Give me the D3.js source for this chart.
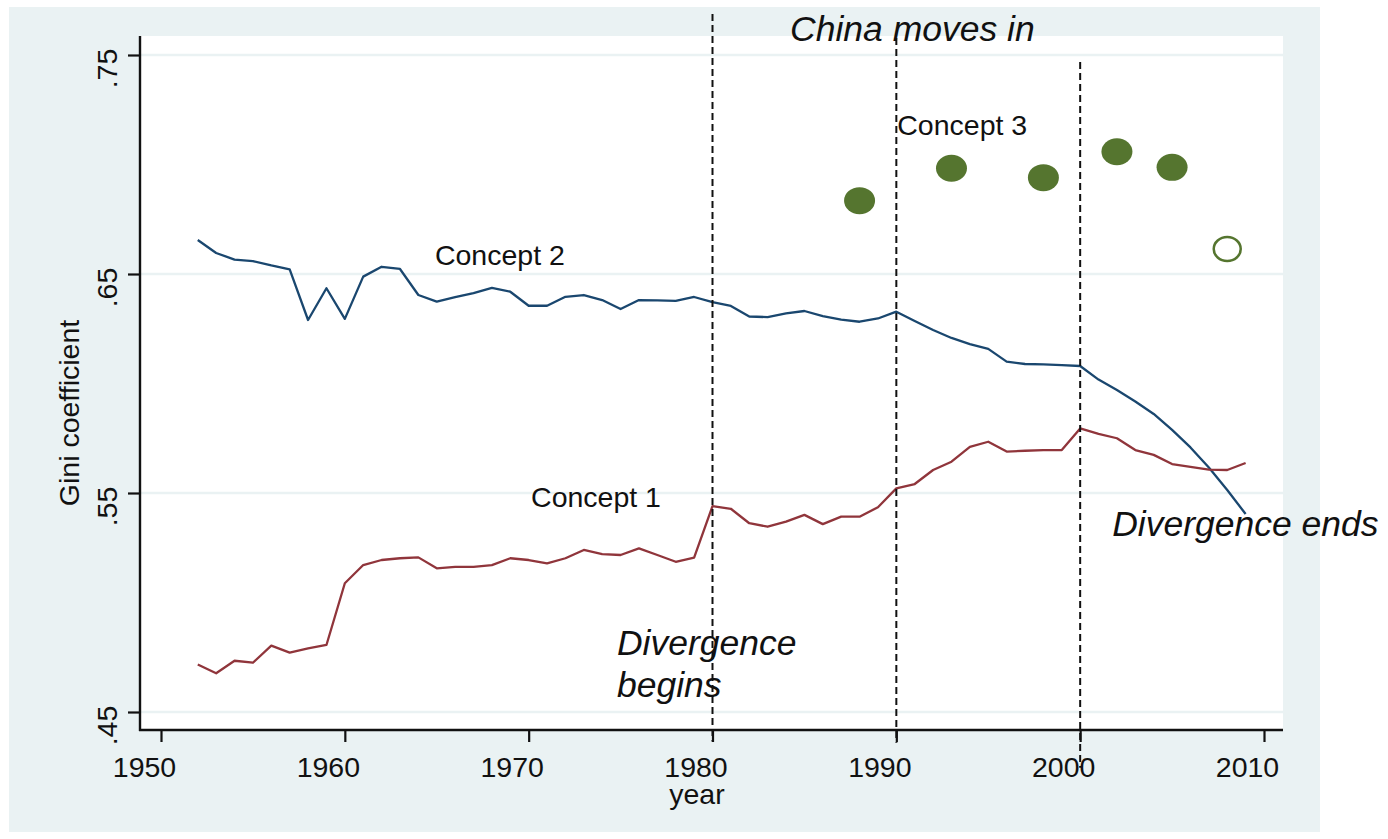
<!DOCTYPE html>
<html>
<head>
<meta charset="utf-8">
<script src="https://cdn.jsdelivr.net/npm/d3@7"></script>
<style>
  html, body { margin: 0; padding: 0; background: #ffffff; }
  svg { display: block; }
  text { font-family: "Liberation Sans", Arial, sans-serif; fill: #111; }
</style>
</head>
<body>
<svg id="chart" width="1388" height="839"></svg>
<script>
// ---------------- data ----------------
const years = d3.range(1952, 2010); // 1952..2009

const concept2 = [
  .6655, .6596, .6566, .6559, .6539, .6521, .6290, .6435, .6295, .6488,
  .6533, .6523, .6404, .6374, .6394, .6413, .6437, .6419, .6355, .6355,
  .6396, .6404, .6381, .6340, .6381, .6380, .6377, .6395, .6372, .6354,
  .6306, .6303, .6320, .6331, .6308, .6292, .6282, .6297, .6328, .6285,
  .6244, .6208, .6180, .6158, .6100, .6089, .6087, .6084, .6080, .6018,
  .5970, .5918, .5861, .5788, .5708, .5616, .5514, .5404
];

const concept1 = [
  .4717, .4677, .4734, .4725, .4803, .4771, .4791, .4806, .5088, .5171,
  .5194, .5202, .5206, .5156, .5163, .5163, .5171, .5202, .5194, .5179,
  .5202, .5240, .5221, .5217, .5247, .5217, .5186, .5205, .5440, .5428,
  .5362, .5346, .5369, .5400, .5358, .5392, .5392, .5435, .5521, .5541,
  .5605, .5643, .5711, .5734, .5689, .5693, .5696, .5696, .5795, .5770,
  .5750, .5696, .5674, .5632, .5619, .5607, .5605, .5637
];

const concept3Years = [1988, 1993, 1998, 2002, 2005];
const concept3Values = [.6835, .6983, .6940, .7058, .6987];
const concept3OpenYears = [2008];
const concept3OpenValues = [.6614];

const xTicks = [1950, 1960, 1970, 1980, 1990, 2000, 2010];
const yTicks = [.45, .55, .65, .75];

const markerYears = [1980, 1990, 2000];
const markerTop = [.7687, .7578, .7468];
const markerBottom = [.4365, .4360, .4245];

const seriesLabels = [
  { text: "Concept 2", year: 1964.9, value: .6541 },
  { text: "Concept 1", year: 1970.13, value: .5436 },
  { text: "Concept 3", year: 1990.05, value: .7133 }
];
const notes = [
  { lines: ["China moves in"], year: 1984.22, value: .7564 },
  { lines: ["Divergence", "begins"], year: 1974.8, value: .4760 },
  { lines: ["Divergence ends"], year: 2001.74, value: .5304 }
];

// ---------------- layout ----------------
const svg = d3.select("#chart");
const plot = { left: 140, right: 1283, top: 36, bottom: 730 };

const x = d3.scaleLinear().domain([1950, 2010]).range([161, 1264]);
const y = d3.scaleLinear().domain([.45, .75]).range([712, 55]);

const navy = "#1a476f", maroon = "#90353b", forest = "#55752f", bg = "#eaf2f3";

// outer graph region
svg.append("rect").attr("x", 9).attr("y", 7).attr("width", 1311).attr("height", 825).attr("fill", bg);
// plot region
svg.append("rect").attr("x", plot.left).attr("y", plot.top)
  .attr("width", plot.right - plot.left).attr("height", plot.bottom - plot.top).attr("fill", "#fff");

// gridlines
svg.append("g").selectAll("line").data(yTicks).join("line")
  .attr("x1", plot.left).attr("x2", plot.right)
  .attr("y1", d => y(d)).attr("y2", d => y(d))
  .attr("stroke", bg).attr("stroke-width", 2.5);

// y axis
const yAxis = d3.axisLeft(y).tickValues(yTicks).tickSize(12)
  .tickFormat(d => d3.format(".2f")(d).replace(/^0/, ""));
const gy = svg.append("g").attr("transform", `translate(${plot.left},0)`).call(yAxis);
gy.select(".domain").remove();
gy.selectAll(".tick line").attr("stroke", "#111").attr("stroke-width", 2.2);
gy.selectAll(".tick text")
  .attr("x", 0).attr("dy", 0).attr("y", 0)
  .attr("transform", "translate(-23,13) rotate(-90)")
  .attr("text-anchor", "middle")
  .style("font-size", "28.5px").style("font-family", "Liberation Sans, Arial, sans-serif").attr("fill", "#111");

// x axis
const xAxis = d3.axisBottom(x).tickValues(xTicks).tickSize(12).tickFormat(d3.format("d"));
const gx = svg.append("g").attr("transform", `translate(0,${plot.bottom})`).call(xAxis);
gx.select(".domain").remove();
gx.selectAll(".tick line").attr("stroke", "#111").attr("stroke-width", 2.2);
gx.selectAll(".tick text").attr("x", -17).attr("y", 47).attr("dy", 0)
  .style("font-size", "28.5px").style("font-family", "Liberation Sans, Arial, sans-serif").attr("fill", "#111");

// axis lines
svg.append("line").attr("x1", plot.left).attr("x2", plot.left).attr("y1", plot.top).attr("y2", plot.bottom + 1)
  .attr("stroke", "#111").attr("stroke-width", 2.4);
svg.append("line").attr("x1", plot.left - 1).attr("x2", plot.right).attr("y1", plot.bottom).attr("y2", plot.bottom)
  .attr("stroke", "#111").attr("stroke-width", 2.4);

// axis titles
svg.append("text").attr("transform", `translate(79,413) rotate(-90)`).attr("text-anchor", "middle")
  .style("font-size", "28.5px").text("Gini coefficient");
svg.append("text").attr("x", 697).attr("y", 804).attr("text-anchor", "middle")
  .style("font-size", "28.5px").text("year");

// lines
const line = d3.line().x(d => x(d[0])).y(d => y(d[1]));
svg.append("path").datum(years.map((yr, i) => [yr, concept2[i]]))
  .attr("d", line).attr("fill", "none").attr("stroke", navy).attr("stroke-width", 2.3)
  .attr("stroke-linejoin", "round");
svg.append("path").datum(years.map((yr, i) => [yr, concept1[i]]))
  .attr("d", line).attr("fill", "none").attr("stroke", maroon).attr("stroke-width", 2.3)
  .attr("stroke-linejoin", "round");

// concept 3 points
svg.append("g").selectAll("ellipse").data(concept3Years.map((yr, i) => [yr, concept3Values[i]])).join("ellipse")
  .attr("cx", d => x(d[0])).attr("cy", d => y(d[1]))
  .attr("rx", 15.5).attr("ry", 13.5).attr("fill", forest);
svg.append("g").selectAll("ellipse").data(concept3OpenYears.map((yr, i) => [yr, concept3OpenValues[i]])).join("ellipse")
  .attr("cx", d => x(d[0])).attr("cy", d => y(d[1]))
  .attr("rx", 13.5).attr("ry", 12).attr("fill", "#fff").attr("stroke", forest).attr("stroke-width", 2.5);

// series labels
svg.append("g").selectAll("text").data(seriesLabels).join("text")
  .attr("x", d => x(d.year)).attr("y", d => y(d.value))
  .style("font-size", "28.5px").text(d => d.text);

// italic notes
notes.forEach(n => {
  const t = svg.append("text").attr("x", x(n.year)).attr("y", y(n.value))
    .style("font-size", "35.5px").style("font-style", "italic");
  n.lines.forEach((ln, i) => {
    t.append("tspan").attr("x", x(n.year)).attr("dy", i === 0 ? 0 : 42).text(ln);
  });
});

// dashed vertical markers
svg.append("g").selectAll("line").data(markerYears.map((yr, i) => [yr, markerTop[i], markerBottom[i]])).join("line")
  .attr("x1", d => x(d[0])).attr("x2", d => x(d[0]))
  .attr("y1", d => y(d[1])).attr("y2", d => y(d[2]))
  .attr("stroke", "#111").attr("stroke-width", 2).attr("stroke-dasharray", "7,4");
</script>
</body>
</html>
